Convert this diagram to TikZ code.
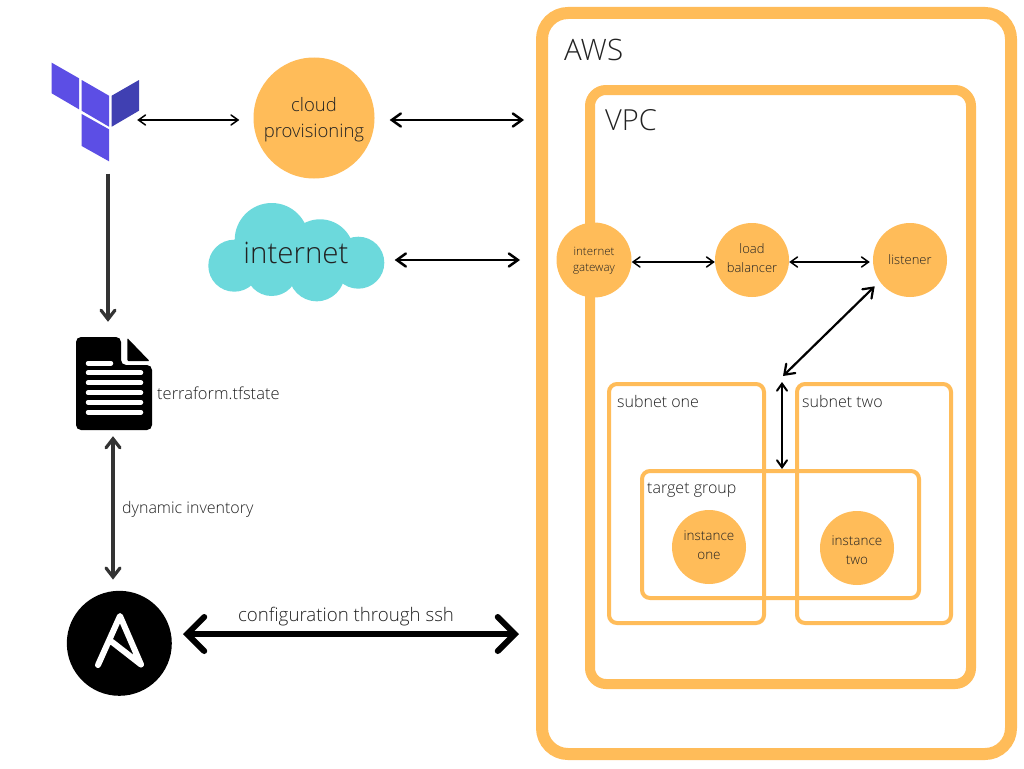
\documentclass[tikz,border=0pt]{standalone}
\usepackage{xcolor}
\usepackage{fontspec}
\setmainfont{Open Sans Light}
\usetikzlibrary{arrows.meta}
\definecolor{awsorange}{HTML}{FFBC59}
\definecolor{cloudblue}{HTML}{6CD9DC}
\definecolor{tfpurple}{HTML}{5C4EE5}
\definecolor{tfdark}{HTML}{4040B2}
\definecolor{inkgray}{HTML}{222222}
\newcommand{\fsize}[2]{\fontsize{#1}{#2}\selectfont}
\tikzstyle{active}=[circle,fill=awsorange,inner sep=0pt]
\tikzstyle{inside}=[text=inkgray,align=center,inner sep=0pt]
\tikzstyle{region}=[draw=awsorange,rounded corners=8pt,line width=4pt,inner sep=0pt]
\tikzstyle{tag}=[anchor=west,text=inkgray,inner sep=0pt]
\tikzstyle{linkthin}=[{Straight Barb[length=7pt,width=10pt,line cap=round]}-{Straight Barb[length=7pt,width=10pt,line cap=round]},line width=1.5pt,line cap=round]
\tikzstyle{linkmid}=[{Straight Barb[length=9pt,width=13pt,line cap=round]}-{Straight Barb[length=9pt,width=13pt,line cap=round]},line width=2.5pt,line cap=round]
\tikzstyle{linkgray}=[{Straight Barb[length=9pt,width=14pt,line cap=round]}-{Straight Barb[length=9pt,width=14pt,line cap=round]},line width=3.2pt,draw=black!80]
\tikzstyle{linkbig}=[{Straight Barb[length=17pt,width=34pt,line cap=round]}-{Straight Barb[length=17pt,width=34pt,line cap=round]},line width=6pt,line cap=round]
\begin{document}
\begin{tikzpicture}[x=1pt,y=-1pt]
	\useasboundingbox[fill=white] (0,0) rectangle (1024,768);
	\node [region,line width=12pt,rounded corners=26pt,minimum width=469pt,minimum height=741pt] (aws) at (776.5,383.5) {};
	\node [region,line width=10pt,rounded corners=16pt,minimum width=381pt,minimum height=594pt] (vpc) at (780.5,387) {};
	\node [tag,font=\fsize{29.5}{36}] (awslabel) at (564,50) {AWS};
	\node [tag,font=\fsize{29}{35}] (vpclabel) at (605,120) {VPC};
	\node [region,minimum width=155pt,minimum height=239pt] (subnetone) at (686.5,503.5) {};
	\node [region,minimum width=154pt,minimum height=239pt] (subnettwo) at (874,503.5) {};
	\node [region,minimum width=277pt,minimum height=127pt] (target) at (780.5,534.5) {};
	\node [tag,font=\fsize{16}{19}] (subnetonelabel) at (617,401.5) {subnet one};
	\node [tag,font=\fsize{16}{19}] (subnettwolabel) at (802,401.5) {subnet two};
	\node [tag,font=\fsize{16}{19}] (targetlabel) at (647,490) {target group};
	\node [active,minimum size=75pt,label={[inside,yshift=-1pt,font=\fsize{11.5}{16}]center:{internet\\gateway}}] (gateway) at (594,260) {};
	\node [active,minimum size=74pt,label={[inside,yshift=2pt,font=\fsize{13}{19}]center:{load\\balancer}}] (balancer) at (752,260) {};
	\node [active,minimum size=74pt,label={[inside,font=\fsize{13}{17}]center:{listener}}] (listener) at (910,260) {};
	\node [active,minimum size=74pt,label={[inside,yshift=2pt,font=\fsize{13.5}{19}]center:{instance\\one}}] (instanceone) at (709,547) {};
	\node [active,minimum size=74pt,label={[inside,yshift=-2pt,font=\fsize{13.5}{19}]center:{instance\\two}}] (instancetwo) at (857,548) {};
	\node [active,minimum size=121pt,label={[inside,yshift=-2pt,font=\fsize{18.5}{26}]center:{cloud\\provisioning}}] (provision) at (314,118) {};

	\node [minimum width=87pt,minimum height=99pt,inner sep=0pt] (terraform) at (95.5,112) {};
	\fill [tfpurple] (51.7,62.7) -- (79,78.3) -- (79,109.3) -- (51.7,93.3) -- cycle;
	\fill [tfpurple] (81.7,80) -- (109,95.7) -- (109,126.7) -- (81.7,110.7) -- cycle;
	\fill [tfdark] (111.7,95.7) -- (139,80) -- (139,110.7) -- (111.7,126.7) -- cycle;
	\fill [tfpurple] (81.7,114) -- (109,129.3) -- (109,161.3) -- (81.7,146) -- cycle;

	\fill [cloudblue] (234.3,265.7) circle (26) (271.7,240) circle (37) (320,253.3) circle (34) (358.3,262.7) circle (26) (316.7,273.3) circle (28) (271.7,270) circle (26);
	\fill [cloudblue] (240,250) rectangle (350,280);
	\node [inner sep=0pt,minimum width=176pt,minimum height=96pt,text=inkgray,label={[inside,yshift=-3pt,font=\fsize{29.5}{36}]center:{internet}}] (internet) at (296,250) {};

	\node [minimum width=76pt,minimum height=93pt,inner sep=0pt] (tfstate) at (114,383.5) {};
	\fill [black,rounded corners=5pt] (76,337) -- (121,337) -- (121,365) -- (152,365) -- (152,430) -- (76,430) -- cycle;
	\fill [black,rounded corners=1pt] (127.3,338) -- (149.5,361) -- (127.3,361) -- cycle;
	\draw [white,line width=4.5pt,line cap=round] (88,363.3) -- (111,363.3);
	\foreach \liney in {372.7,382.7,392.7,402.3,412.3}
		\draw [white,line width=4.5pt,line cap=round] (88,\liney) -- (141,\liney);
	\node [tag,font=\fsize{16.5}{20}] (tfstatelabel) at (157,393) {terraform.tfstate};

	\node [circle,fill=black,minimum size=105pt,inner sep=0pt] (ansible) at (119.3,643.3) {};
	\draw [white,line width=6pt,line join=round,line cap=round] (98,665) -- (120,616) -- (141,664.5) -- (111.7,641.7);

	\node [tag,font=\fsize{16}{19}] (inventorylabel) at (122,509.5) {dynamic inventory};
	\node [text=inkgray,inner sep=0pt,font=\fsize{18.7}{23}] (sshlabel) at (346,616.5) {configuration through ssh};

	\coordinate (awscloud) at (524,120);
	\coordinate (awsnet) at (520,260);
	\coordinate (awsssh) at (519,634);
	\coordinate (gapdiag) at (783,376);
	\coordinate (gaptop) at (782,382);

	\draw [linkthin,shorten <=-2pt,shorten >=14pt] ([yshift=-8pt]terraform.east) -- ([yshift=-2pt]provision.west);
	\draw [linkmid,shorten <=15pt] ([yshift=-2pt]provision.east) -- (awscloud);
	\draw [linkmid,shorten <=10.5pt] ([yshift=-10pt]internet.east) -- (awsnet);
	\draw [linkthin] ([yshift=-2pt]gateway.east) -- ([yshift=-2pt]balancer.west);
	\draw [linkthin,shorten >=3pt] ([yshift=-2pt]balancer.east) -- ([yshift=-2pt]listener.west);
	\draw [linkmid,line width=2.2pt] ([xshift=-9pt]listener.south west) -- (gapdiag);
	\draw [linkthin,line width=2pt] (gaptop) -- ([xshift=1.5pt]target.north);
	\draw [linkgray,-{Straight Barb[length=9pt,width=14pt,line cap=round]},shorten <=12pt,shorten >=15pt] ([xshift=12.5pt]terraform.south) -- ([xshift=-6pt]tfstate.north);
	\draw [linkgray,shorten <=6pt,shorten >=11pt] ([xshift=-1pt]tfstate.south) -- ([xshift=-6.3pt]ansible.north);
	\draw [linkbig,shorten <=11pt] ([yshift=9.3pt]ansible.east) -- (awsssh);
\end{tikzpicture}
\end{document}
